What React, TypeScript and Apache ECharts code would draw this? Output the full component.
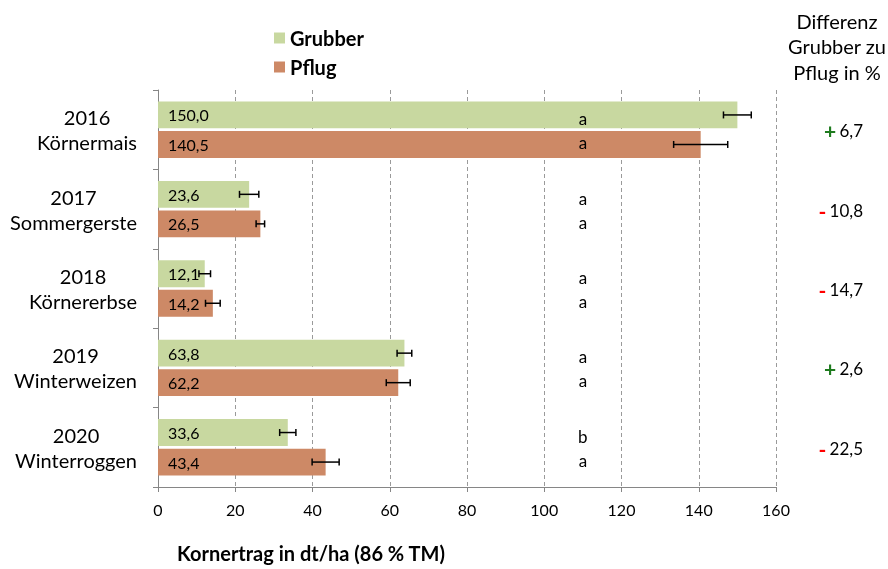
import React, { useEffect, useRef } from 'react';
import * as echarts from 'echarts';

const years = ['2016', '2017', '2018', '2019', '2020'];
const crops = ['Körnermais', 'Sommergerste', 'Körnererbse', 'Winterweizen', 'Winterroggen'];
const grubber = [150.0, 23.6, 12.1, 63.8, 33.6];
const pflug = [140.5, 26.5, 14.2, 62.2, 43.4];
const grubberErr = [3.6, 2.5, 1.5, 1.9, 2.1];
const pflugErr = [7.0, 1.1, 1.9, 3.1, 3.5];
const grubberLetters = ['a', 'a', 'a', 'a', 'b'];
const pflugLetters = ['a', 'a', 'a', 'a', 'a'];
const letterPos = 110;
const diffSign = ['+', '-', '-', '+', '-'];
const diffValue = ['6,7', '10,8', '14,7', '2,6', '22,5'];
const xMin = 0;
const xMax = 160;
const xStep = 20;

const FONT = 'Lato, "Open Sans", sans-serif';
const GREEN = '#c8d8a0';
const BROWN = '#cd8966';

const categories = years.map((y, i) => `${y}\n${crops[i]}`);

function barGeom(api: any) {
  const band = api.size([0, 1])[1];
  const w = (band * 0.71) / 2.1;
  return { band, w, off: (w * 1.1) / 2 };
}

function errorSeries(values: number[], errs: number[], sign: number) {
  return {
    type: 'custom',
    silent: true,
    z: 5,
    encode: { y: 0, x: 1 },
    data: values.map((v, i) => [i, v, errs[i]]),
    renderItem: (params: any, api: any) => {
      const idx = api.value(0);
      const v = api.value(1);
      const e = api.value(2);
      const { off } = barGeom(api);
      const p1 = api.coord([v - e, idx]);
      const p2 = api.coord([v + e, idx]);
      const y = p1[1] + sign * off;
      const style = { stroke: '#000', lineWidth: 1.5 };
      return {
        type: 'group',
        children: [
          { type: 'line', shape: { x1: p1[0], y1: y, x2: p2[0], y2: y }, style },
          { type: 'line', shape: { x1: p1[0], y1: y - 3.5, x2: p1[0], y2: y + 3.5 }, style },
          { type: 'line', shape: { x1: p2[0], y1: y - 3.5, x2: p2[0], y2: y + 3.5 }, style },
        ],
      };
    },
  };
}

export default function App() {
  const ref = useRef<HTMLDivElement>(null);
  useEffect(() => {
    if (!ref.current) return;
    const chart = echarts.init(ref.current, undefined, { renderer: 'svg' });
    const labelFmt = (p: any) => Number(p.value).toFixed(1).replace('.', ',');
    chart.setOption({
      animation: false,
      textStyle: { fontFamily: FONT },
      grid: { left: 158, right: 112, top: 90, bottom: 82, containLabel: false },
      legend: {
        data: ['Grubber', 'Pflug'],
        orient: 'vertical',
        left: 269,
        top: 23,
        icon: 'rect',
        itemWidth: 11,
        itemHeight: 11,
        itemGap: 9,
        textStyle: { fontFamily: FONT, fontWeight: 'bold', fontSize: 20, color: '#000' },
      },
      xAxis: {
        type: 'value',
        min: xMin,
        max: xMax,
        interval: xStep,
        axisLine: { show: true, lineStyle: { color: '#868686', width: 1 } },
        axisTick: { show: true, length: 5, lineStyle: { color: '#868686' } },
        axisLabel: { color: '#000', fontSize: 16, fontFamily: FONT, margin: 14 },
        splitLine: { show: true, lineStyle: { color: '#9a9a9a', type: [4, 3], width: 1 } },
      },
      yAxis: {
        type: 'category',
        inverse: true,
        data: categories,
        axisLine: { show: true, lineStyle: { color: '#868686', width: 1 } },
        axisTick: { show: true, length: 5, lineStyle: { color: '#868686' } },
        axisLabel: {
          color: '#000',
          fontSize: 20,
          fontFamily: FONT,
          margin: 21,
          align: 'right',
          lineHeight: 25,
          formatter: (v: string) => v.split('\n').map((s) => `{c|${s}}`).join('\n'),
          rich: { c: { align: 'center', fontSize: 20, lineHeight: 25, fontFamily: FONT, color: '#000' } },
        },
      },
      graphic: [
        {
          type: 'text',
          left: 177,
          top: 543,
          style: { text: 'Kornertrag in dt/ha (86 % TM)', fontFamily: FONT, fontWeight: 'bold', fontSize: 20, fill: '#000' },
        },
        {
          type: 'text',
          x: 837,
          y: 8,
          style: {
            text: 'Differenz\nGrubber zu\nPflug in %',
            fontFamily: FONT,
            fontSize: 20,
            lineHeight: 25.5,
            align: 'center',
            fill: '#000',
          },
        },
      ],
      series: [
        {
          name: 'Grubber',
          type: 'bar',
          data: grubber,
          barCategoryGap: '29%',
          barGap: '10%',
          itemStyle: { color: GREEN },
          label: { show: true, position: 'insideLeft', distance: 10, color: '#000', fontSize: 16, fontFamily: FONT, formatter: labelFmt },
        },
        {
          name: 'Pflug',
          type: 'bar',
          data: pflug,
          barCategoryGap: '29%',
          barGap: '10%',
          itemStyle: { color: BROWN },
          label: { show: true, position: 'insideLeft', distance: 10, color: '#000', fontSize: 16, fontFamily: FONT, formatter: labelFmt },
        },
        errorSeries(grubber, grubberErr, -1),
        errorSeries(pflug, pflugErr, 1),
        {
          type: 'custom',
          silent: true,
          z: 6,
          encode: { y: 0, x: 1 },
          data: years.map((_, i) => [i, letterPos]),
          renderItem: (params: any, api: any) => {
            const i = params.dataIndex;
            const p = api.coord([api.value(1), api.value(0)]);
            const st = { fontFamily: FONT, fontSize: 17, fill: '#000', align: 'center', verticalAlign: 'middle' };
            return {
              type: 'group',
              children: [
                { type: 'text', x: p[0], y: p[1] - 11, style: { ...st, text: grubberLetters[i] } },
                { type: 'text', x: p[0], y: p[1] + 13, style: { ...st, text: pflugLetters[i] } },
              ],
            };
          },
        },
        {
          type: 'custom',
          silent: true,
          z: 6,
          encode: { y: 0, x: 1 },
          data: years.map((_, i) => [i, 0]),
          renderItem: (params: any, api: any) => {
            const i = params.dataIndex;
            const p = api.coord([0, api.value(0)]);
            const plus = diffSign[i] === '+';
            return {
              type: 'text',
              x: 863,
              y: p[1] + 1,
              style: {
                text: `{s|${diffSign[i]}} {n|${diffValue[i]}}`,
                align: 'right',
                verticalAlign: 'middle',
                rich: {
                  s: { fontFamily: FONT, fontSize: 21, fontWeight: 'bold', fill: plus ? '#1e7b1e' : '#ff0000' },
                  n: { fontFamily: FONT, fontSize: 17, fill: '#000' },
                },
              },
            };
          },
        },
      ],
    });
    return () => chart.dispose();
  }, []);
  return <div ref={ref} style={{ width: 888, height: 569, position: 'fixed', left: 0, top: 0 }} />;
}
